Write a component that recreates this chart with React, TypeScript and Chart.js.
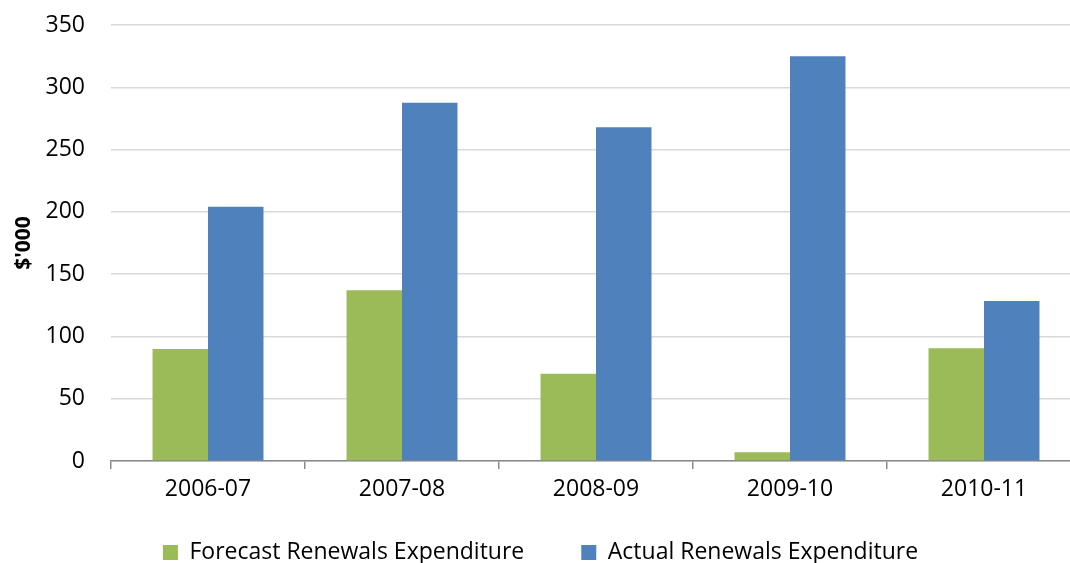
import React, { useEffect, useRef } from "react";
import { Chart, registerables } from "chart.js";

Chart.register(...registerables);

const categories = ["2006-07", "2007-08", "2008-09", "2009-10", "2010-11"];
const forecast = [90, 137, 70, 7, 90.5];
const actual = [204, 287.5, 268, 325, 128.5];
const seriesNames = ["Forecast Renewals Expenditure", "Actual Renewals Expenditure"];
const yTicks = [0, 50, 100, 150, 200, 250, 300, 350];

const FONT = "'Open Sans', sans-serif";

// Moves the legend's top edge up so its row sits closer to the axis labels (wide item gap, small vertical offset)
const legendShift = {
  id: "legendShift",
  afterLayout(chart: any) {
    const lg = chart.legend;
    if (!lg) return;
    lg.top -= 24;
  },
};

export default function App() {
  const ref = useRef<HTMLCanvasElement | null>(null);
  useEffect(() => {
    if (!ref.current) return;
    const chart = new Chart(ref.current, {
      type: "bar",
      data: {
        labels: categories,
        datasets: [
          { label: seriesNames[0], data: forecast, backgroundColor: "#9BBB59", borderWidth: 0 },
          { label: seriesNames[1], data: actual, backgroundColor: "#4F81BD", borderWidth: 0 },
        ],
      },
      plugins: [legendShift],
      options: {
        animation: false,
        responsive: true,
        maintainAspectRatio: false,
        devicePixelRatio: 1,
        layout: { padding: { top: 25, right: 9, left: 0, bottom: 0 } },
        datasets: { bar: { barPercentage: 1, categoryPercentage: 0.572 } },
        plugins: {
          tooltip: { enabled: false },
          legend: {
            position: "bottom",
            maxHeight: 55,
            labels: {
              boxWidth: 15,
              boxHeight: 15,
              padding: 57,
              color: "#000",
              font: { family: FONT, size: 23 },
            },
          },
        },
        scales: {
          x: {
            afterFit: (scale: any) => {
              scale.height = 47;
            },
            grid: {
              offset: true,
              drawOnChartArea: false,
              drawTicks: true,
              tickLength: 8,
              color: "#898989",
              lineWidth: 1.5,
            },
            border: { display: true, color: "#898989", width: 1.5 },
            ticks: { color: "#000", font: { family: FONT, size: 23 }, padding: 7 },
          },
          y: {
            min: 0,
            max: 350,
            afterBuildTicks: (scale: any) => {
              scale.ticks = yTicks.map((v) => ({ value: v }));
            },
            afterFit: (scale: any) => {
              scale.width = 111;
            },
            grid: { color: "#d9d9d9", lineWidth: 1.5, drawTicks: true, tickLength: 22, tickColor: "rgba(0,0,0,0)" },
            border: { display: false },
            ticks: { color: "#000", font: { family: FONT, size: 23 }, padding: 4 },
            title: {
              display: true,
              text: "$'000",
              color: "#000",
              font: { family: FONT, size: 21, weight: "bold" },
              padding: { top: 11, bottom: 0 },
            },
          },
        },
      },
    });
    return () => chart.destroy();
  }, []);
  return (
    <div style={{ position: "fixed", left: 0, top: 0, width: 1070, height: 563, overflow: "hidden", background: "#fff" }}>
      <div style={{ position: "relative", width: 1090, height: 563 }}>
        <canvas ref={ref} />
      </div>
    </div>
  );
}
